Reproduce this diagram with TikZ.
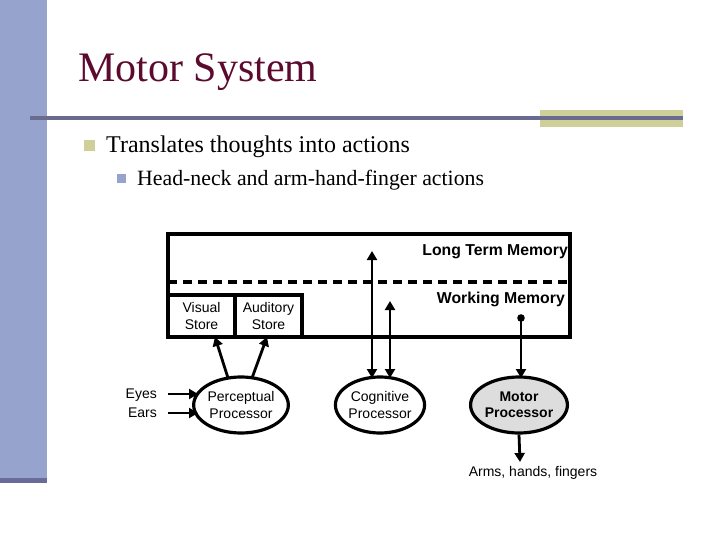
\documentclass[tikz,border=0pt]{standalone}
\usepackage{fontspec}
\setmainfont{Liberation Serif}
\newfontfamily\arialf{Liberation Sans}
\usetikzlibrary{arrows.meta,shapes.geometric}
\definecolor{barblue}{HTML}{96A3CC}
\definecolor{bardark}{HTML}{6B6B99}
\definecolor{ruleblue}{HTML}{6B6B8F}
\definecolor{tan}{HTML}{CFCF99}
\definecolor{maroon}{HTML}{5C0A2E}
\definecolor{motorgray}{HTML}{DDDDDD}
\begin{document}
\begin{tikzpicture}[x=1pt,y=-1pt,
  thick line/.style={line width=3.2pt},
  arr/.style={line width=2.8pt,-{Triangle[length=9pt,width=10pt]}},
  darr/.style={line width=2.8pt,{Triangle[length=9pt,width=10pt]}-{Triangle[length=9pt,width=10pt]}},
  proc/.style={ellipse,draw,line width=3.2pt,minimum width=84pt,minimum height=56pt,inner sep=0pt,align=center,font=\arialf\fontsize{14}{16.5}\selectfont},
  lbl/.style={font=\arialf\fontsize{14}{16.5}\selectfont,align=center,inner sep=0pt},
  blbl/.style={font=\arialf\bfseries\fontsize{15.8}{17}\selectfont,inner sep=0pt}
]
\useasboundingbox (0,0) rectangle (720,540);
\fill[white] (0,0) rectangle (720,540);
% slide decorations
\fill[barblue] (0,0) rectangle (47,478);
\fill[bardark] (0,478) rectangle (47,483);
\fill[tan] (540,110) rectangle (683,127);
\fill[ruleblue] (30,116.5) rectangle (683,120.5);
\node[anchor=base west,inner sep=0pt,text=maroon,font=\fontsize{42}{46}\selectfont] (title) at (78,82) {Motor System};
\fill[tan] (84,140) rectangle (95,151) coordinate (b1);
\node[anchor=base west,inner sep=0pt,font=\fontsize{24}{28}\selectfont] (t1) at (106,153) {Translates thoughts into actions};
\fill[barblue] (117,174) rectangle (126,183) coordinate (b2);
\node[anchor=base west,inner sep=0pt,font=\fontsize{21.8}{26}\selectfont] (t2) at (137,186) {Head-neck and arm-hand-finger actions};
% memory box
\draw[thick line] (168,234) rectangle (570,337);
\draw[thick line,dash pattern=on 9pt off 6pt] (168,282) -- (570,282);
\draw[thick line] (168,295) rectangle (235,337);
\draw[thick line] (235,295) rectangle (302,337);
\node[lbl] (vs) at (201.5,316) {Visual\\Store};
\node[lbl] (as) at (268.5,316) {Auditory\\Store};
\node[blbl,anchor=east] (ltm) at (568,252) {Long Term Memory};
\node[blbl,anchor=east] (wm) at (565,299) {Working Memory};
% processors
\node[proc] (pp) at (241,405) {Perceptual\\Processor};
\node[proc] (cp) at (380,405) {Cognitive\\Processor};
\node[proc,fill=motorgray,font=\arialf\bfseries\fontsize{14}{16.5}\selectfont] (mp) at (519,405) {Motor\\Processor};
% eyes ears
\node[lbl,anchor=east] (eyes) at (157,395) {Eyes};
\node[lbl,anchor=east] (ears) at (157,413) {Ears};
\coordinate (e1) at (168,394);
\coordinate (e2) at (168,413);
\draw[arr] (e1) -- (198,394);
\draw[arr] (e2) -- (198,413);
% perceptual to stores
\coordinate (vsb) at (215,337);
\coordinate (asb) at (267,337);
\draw[arr] (228,378) -- (vsb);
\draw[arr] (252,378) -- (asb);
% cognitive
\coordinate (c1) at (372,251);
\coordinate (c2) at (390,301);
\draw[darr] (c1) -- (372,378);
\draw[darr] (c2) -- (390,378);
% motor
\coordinate (wmdot) at (521,318);
\fill (wmdot) circle (3.8pt);
\draw[arr] (wmdot) -- (521,378);
\node[lbl] (arms) at (533,473) {Arms, hands, fingers};
\draw[arr] (mp.south) -- (520,462);
\end{tikzpicture}
\end{document}
